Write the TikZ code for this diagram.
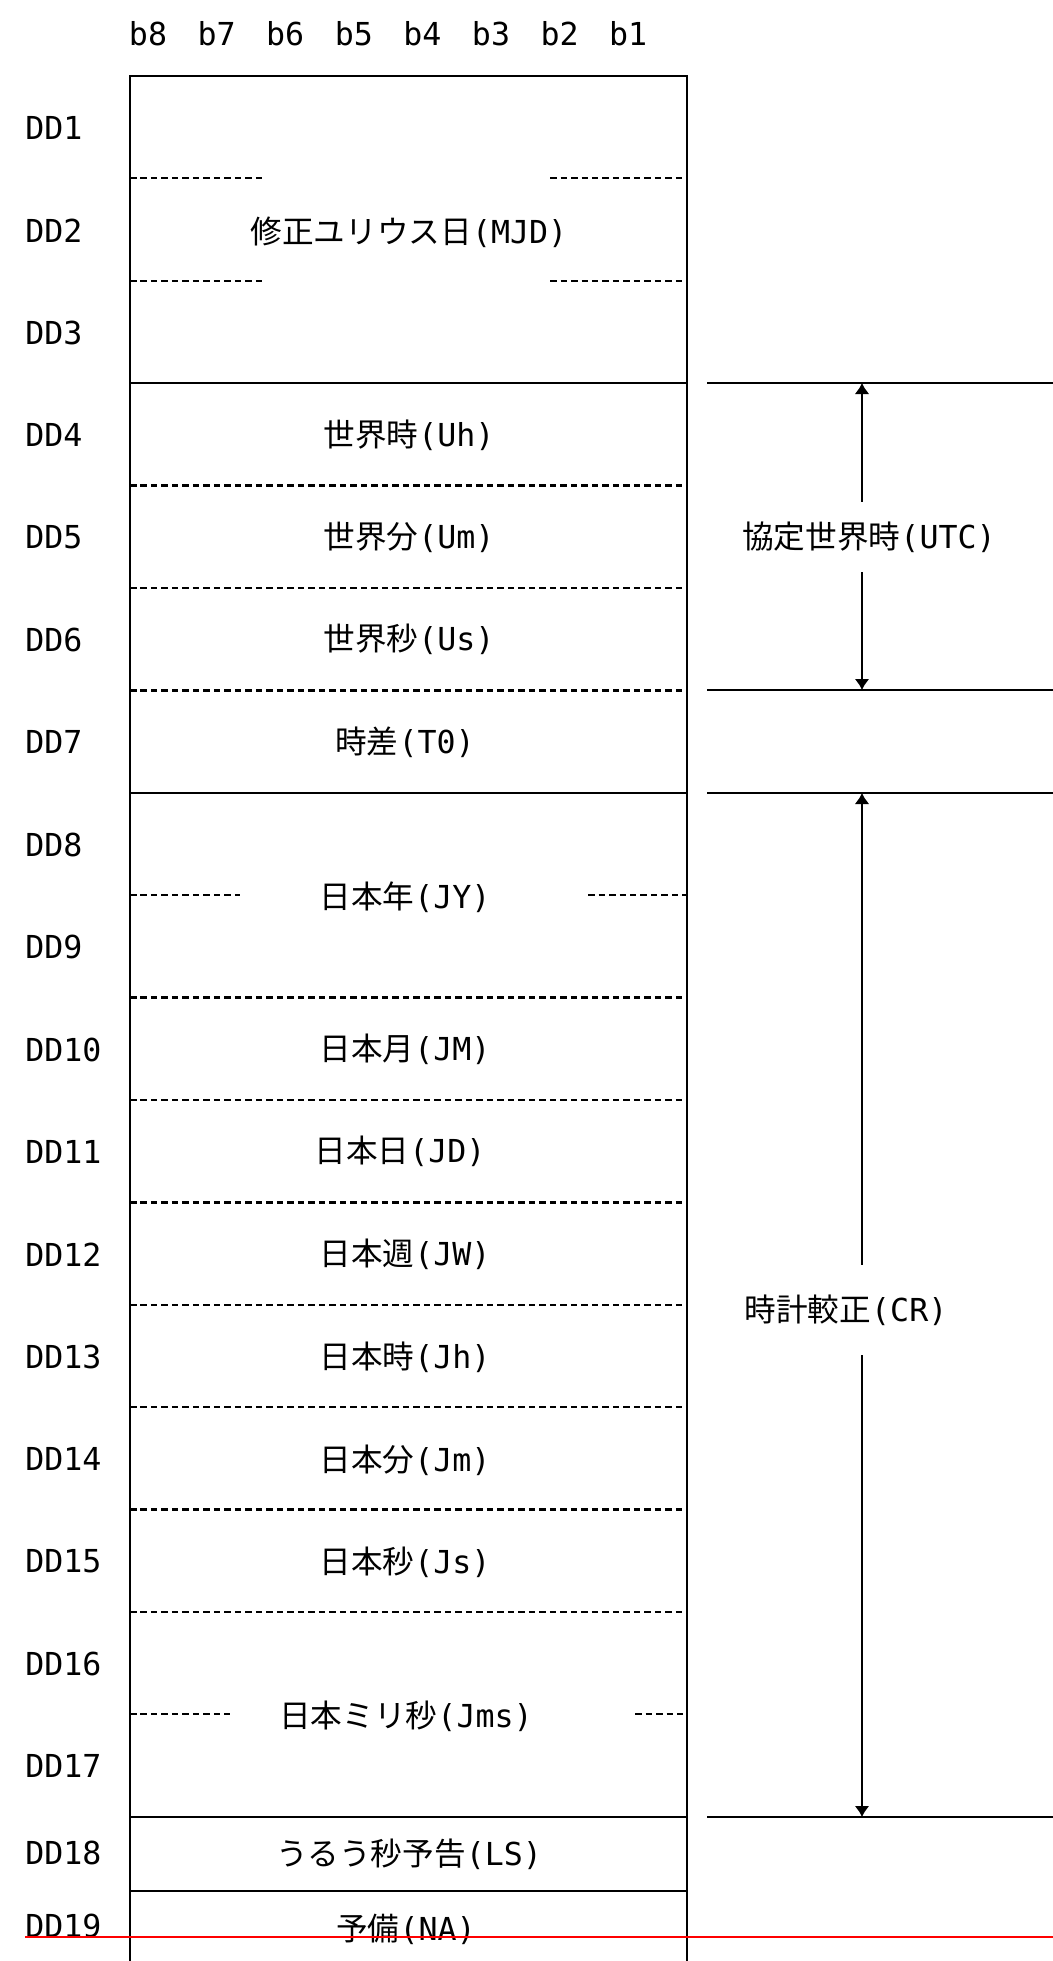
\documentclass[tikz,border=0pt]{standalone}
\usepackage{fontspec}
\setmainfont{DejaVu Sans Mono}
\newfontfamily\jp{Noto Sans CJK JP}
\usetikzlibrary{arrows.meta}

\begin{document}
\begin{tikzpicture}[x=0.02cm,y=-0.02cm,font=\fontsize{18}{20}\selectfont]

\tikzstyle{lbl} = [inner sep=0pt, text centered]
\tikzstyle{dd} = [inner sep=0pt, anchor=west]
\tikzstyle{sl} = [line width=1.4pt]
\tikzstyle{dl} = [line width=1.4pt, dash pattern=on 0.13cm off 0.08cm]
\tikzstyle{tip} = [sl, -{Latex[length=0.22cm,width=0.3cm]}]
\useasboundingbox (0,0) rectangle (1053,1961);

% bit header
\foreach \b [count=\i from 0] in {8,7,...,1}
  \node (b\b) [lbl] at (148+68.6*\i,34) {b\b};

% row names
\foreach \r in {1,...,17}
  \node (dd\r) [dd] at (25,{128+102.4*(\r-1)}) {DD\r};
\node (dd18) [dd] at (25,1853) {DD18};
\node (dd19) [dd] at (25,1926) {DD19};

% frame
\draw[sl] (130,1961) -- (130,76) -- (687,76) -- (687,1961);
\foreach \y in {383,793,1817,1891}
  \draw[sl] (130,\y) -- (687,\y);
\foreach \r in {4,5,6,9,10,...,15}
  \draw[dl] (130,{76+102.4*\r}) -- (687,{76+102.4*\r});
\foreach \y in {178,281} {
  \draw[dl] (130,\y) -- (265,\y);
  \draw[dl] (550,\y) -- (687,\y);
}
\draw[dl] (130,895) -- (240,895);
\draw[dl] (588,895) -- (687,895);
\draw[dl] (130,1714) -- (230,1714);
\draw[dl] (635,1714) -- (687,1714);

% fields
\node (mjd) [lbl] at (409,232) {{\jp 修正ユリウス日}(MJD)};
\node (uh) [lbl] at (409,435) {{\jp 世界時}(Uh)};
\node (um) [lbl] at (409,537) {{\jp 世界分}(Um)};
\node (us) [lbl] at (409,639) {{\jp 世界秒}(Us)};
\node (to) [lbl] at (405,742) {{\jp 時差}(T0)};
\node (jy) [lbl] at (405,897) {{\jp 日本年}(JY)};
\node (jm) [lbl] at (405,1049) {{\jp 日本月}(JM)};
\node (jd) [lbl] at (400,1151) {{\jp 日本日}(JD)};
\node (jw) [lbl] at (405,1254) {{\jp 日本週}(JW)};
\node (jh) [lbl] at (405,1357) {{\jp 日本時}(Jh)};
\node (jmin) [lbl] at (405,1460) {{\jp 日本分}(Jm)};
\node (js) [lbl] at (405,1562) {{\jp 日本秒}(Js)};
\node (jms) [lbl] at (406,1716) {{\jp 日本ミリ秒}(Jms)};
\node (ls) [lbl] at (409,1854) {{\jp うるう秒予告}(LS)};
\node (na) [lbl] at (406,1929) {{\jp 予備}(NA)};

% right side
\foreach \y in {383,690,793,1817}
  \draw[sl] (707,\y) -- (1053,\y);
\coordinate (utctop) at (862,383);
\coordinate (utcbot) at (862,690);
\coordinate (crtop) at (862,793);
\coordinate (crbot) at (862,1817);
\node (utc) [lbl, minimum height=1.4cm] at (869,537) {{\jp 協定世界時}(UTC)};
\node (cr) [lbl, minimum height=1.8cm] at (846,1310) {{\jp 時計較正}(CR)};
\draw[tip] (utc.north -| utctop) -- (utctop);
\draw[tip] (utc.south -| utcbot) -- (utcbot);
\draw[tip] (cr.north -| crtop) -- (crtop);
\draw[tip] (cr.south -| crbot) -- (crbot);

\draw[red, line width=1.2pt] (25,1937) -- (1053,1937);
\end{tikzpicture}
\end{document}
